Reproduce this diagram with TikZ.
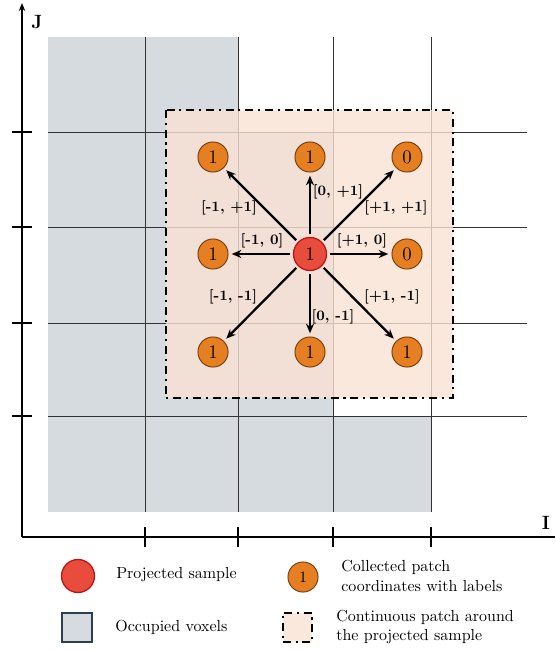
\documentclass[tikz,border=0pt]{standalone}
\usepackage{xcolor}
\usepackage{tikz}
\usetikzlibrary{arrows.meta,positioning}

\definecolor{sampleRed}{RGB}{231,76,60}
\definecolor{sampleEdge}{RGB}{190,20,20}
\definecolor{patchOrange}{RGB}{230,126,34}
\definecolor{patchEdge}{RGB}{120,62,14}
\definecolor{voxelGray}{RGB}{214,219,223}
\definecolor{voxelEdge}{RGB}{44,62,80}
\definecolor{patchFill}{RGB}{250,226,213}

\begin{document}
\begin{tikzpicture}[
  x=0.625pt,y=-0.625pt,
  font=\normalsize,
  sample/.style={circle,draw=sampleEdge,fill=sampleRed,line width=0.8pt,minimum size=20.6pt,inner sep=0pt,font=\large},
  patchpt/.style={circle,draw=patchEdge,fill=patchOrange,line width=0.6pt,minimum size=18.8pt,inner sep=0pt,font=\large},
  voxel/.style={fill=voxelGray},
  gridline/.style={black!80,line width=0.6pt},
  axis/.style={black,line width=1.1pt},
  patchbox/.style={draw=black,line width=1.4pt,fill=patchFill,fill opacity=0.8,
                   dash pattern=on 5pt off 3pt on 1.3pt off 3pt},
  ar/.style={-{Stealth[length=6pt,width=5pt]},line width=1.4pt,shorten <=1.5pt,shorten >=2pt},
  lbl/.style={font=\small\bfseries,inner sep=1pt},
  txt/.style={anchor=west,align=left,inner sep=0pt}
]
\useasboundingbox (0,0) rectangle (555,650);

% occupied voxels
\fill[voxel] (48,37) rectangle (238,512);
\fill[voxel] (238,132) rectangle (333,512);
\fill[voxel] (333,416) rectangle (431,512);

% grid
\foreach \x in {145,238,333,431} \draw[gridline] (\x,37) -- (\x,512);
\foreach \y in {132,227,323,416} \draw[gridline] (48,\y) -- (527,\y);

% continuous patch
\draw[patchbox] (166,110) rectangle (453,398);

% axes with ticks
\draw[axis,-{Stealth[length=5pt,width=4pt]}] (22,537) -- (22,3);
\draw[axis] (22,537) -- (555,537);
\foreach \y in {132,227,323,416} \draw[axis] (12,\y) -- (32,\y);
\foreach \x in {145,238,333,431} \draw[axis] (\x,527) -- (\x,547);
\node[font=\large\bfseries] (J) at (37,22) {J};
\node[font=\large\bfseries] (I) at (546,523) {I};

% projected sample and collected patch coordinates
\node[sample]  (c)  at (310,254) {1};
\node[patchpt] (nw) at (213,157) {1};
\node[patchpt] (n)  at (310,157) {1};
\node[patchpt] (ne) at (407,157) {0};
\node[patchpt] (w)  at (213,254) {1};
\node[patchpt] (e)  at (407,254) {0};
\node[patchpt] (sw) at (213,352) {1};
\node[patchpt] (s)  at (310,352) {1};
\node[patchpt] (se) at (407,352) {1};

\draw[ar] (c) -- (nw);
\draw[ar] (c) -- (n);
\draw[ar] (c) -- (ne);
\draw[ar] (c) -- (w);
\draw[ar] (c) -- (e);
\draw[ar] (c) -- (sw);
\draw[ar] (c) -- (s);
\draw[ar] (c) -- (se);

\node[lbl] (lnw) at (229,208) {[-1, +1]};
\node[lbl] (ln)  at (338,192) {[0, +1]};
\node[lbl] (lne) at (396,208) {[+1, +1]};
\node[lbl] (lw)  at (262,241) {[-1, 0]};
\node[lbl] (le)  at (362,241) {[+1, 0]};
\node[lbl] (lsw) at (233,297) {[-1, -1]};
\node[lbl] (ls)  at (333,317) {[0, -1]};
\node[lbl] (lse) at (392,297) {[+1, -1]};

% legend
\node[sample,minimum size=20.6pt] (lgS) at (78,576) {};
\node[txt] (lgSt) at (116,575) {Projected sample};
\node[patchpt,font=\normalsize] (lgP) at (303,577) {1};
\node[txt] (lgPt) at (341,576) {Collected patch\\coordinates with labels};
\node[draw=voxelEdge,fill=voxelGray,line width=1pt,minimum size=18.4pt,inner sep=0pt] (lgV) at (77,627.5) {};
\node[txt] (lgVt) at (115,627) {Occupied voxels};
\node[patchbox,minimum size=18.4pt,inner sep=0pt] (lgC) at (297.5,627.5) {};
\node[txt] (lgCt) at (336,627) {Continuous patch around\\the projected sample};
\end{tikzpicture}
\end{document}
